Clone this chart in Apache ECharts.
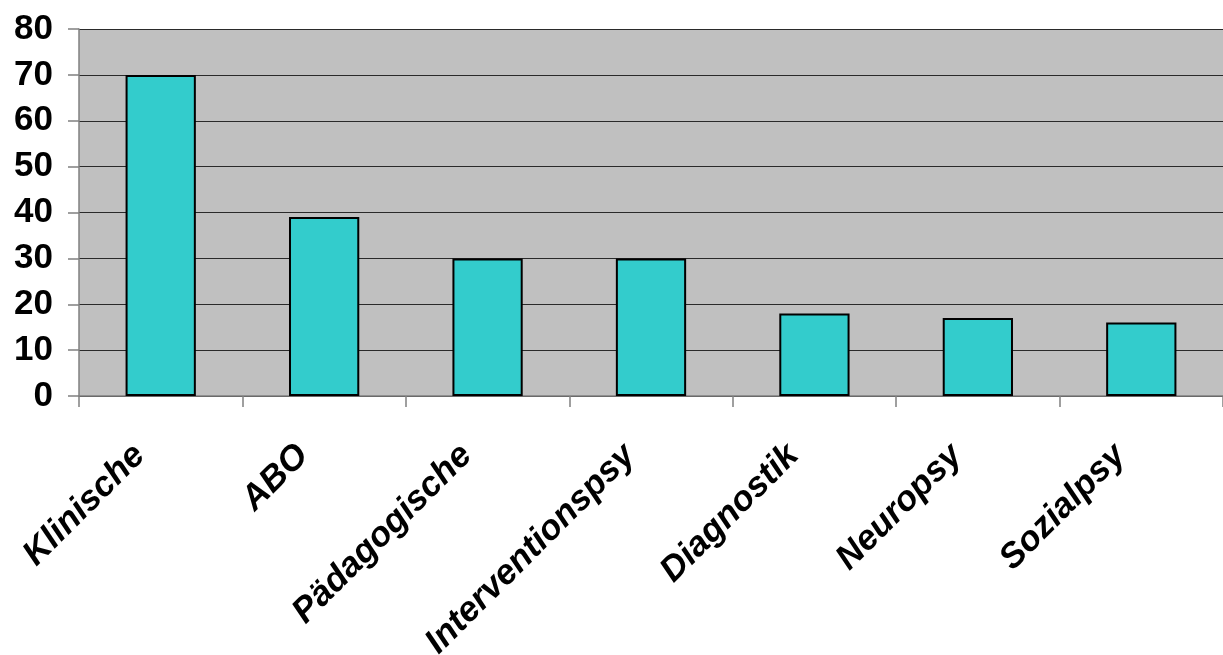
<!DOCTYPE html>
<html>
<head>
<meta charset="utf-8">
<script src="https://cdn.jsdelivr.net/npm/echarts@6/dist/echarts.min.js"></script>
<style>
  html, body { margin: 0; padding: 0; background: #ffffff; }
  #chart { width: 1223px; height: 655px; }
</style>
</head>
<body>
<div id="chart"></div>
<script>
// Fachrichtungen and their counts
const categories = ['Klinische', 'ABO', 'Pädagogische', 'Interventionspsy', 'Diagnostik', 'Neuropsy', 'Sozialpsy'];
const values = [70, 39, 30, 30, 18, 17, 16];
const yTicks = [0, 10, 20, 30, 40, 50, 60, 70, 80];

const chart = echarts.init(document.getElementById('chart'), null, { renderer: 'canvas' });

chart.setOption({
  animation: false,
  grid: { left: 79, right: 0, top: 29, bottom: 259, containLabel: false,
          outerBoundsMode: 'none',
          show: true, backgroundColor: '#c0c0c0', borderWidth: 0 },
  xAxis: {
    type: 'category',
    data: categories,
    boundaryGap: true,
    axisLine: { show: true, lineStyle: { color: '#808080', width: 1.5 } },
    axisTick: { show: true, alignWithLabel: false, length: 11, inside: false,
                lineStyle: { color: '#808080', width: 1.5 } },
    axisLabel: {
      interval: 0,
      rotate: 45,
      margin: 33,
      padding: [0, 30, 0, 0],
      color: '#000000',
      fontFamily: '"Liberation Sans", Arial, sans-serif',
      fontWeight: 'bold',
      fontStyle: 'italic',
      fontSize: 35
    },
    splitLine: { show: false }
  },
  yAxis: {
    type: 'value',
    min: yTicks[0],
    max: yTicks[yTicks.length - 1],
    interval: 10,
    axisLine: { show: true, lineStyle: { color: '#808080', width: 1.5 } },
    axisTick: { show: true, length: 11, lineStyle: { color: '#808080', width: 1.5 } },
    axisLabel: {
      margin: 26,
      color: '#000000',
      fontFamily: '"Liberation Sans", Arial, sans-serif',
      fontWeight: 'bold',
      fontSize: 35
    },
    splitLine: { show: true, lineStyle: { color: '#2a2a2a', width: 1 } }
  },
  series: [{
    type: 'bar',
    data: values,
    barWidth: '43%',
    itemStyle: { color: '#33cccc', borderColor: '#000000', borderWidth: 2 }
  }]
});
</script>
</body>
</html>
